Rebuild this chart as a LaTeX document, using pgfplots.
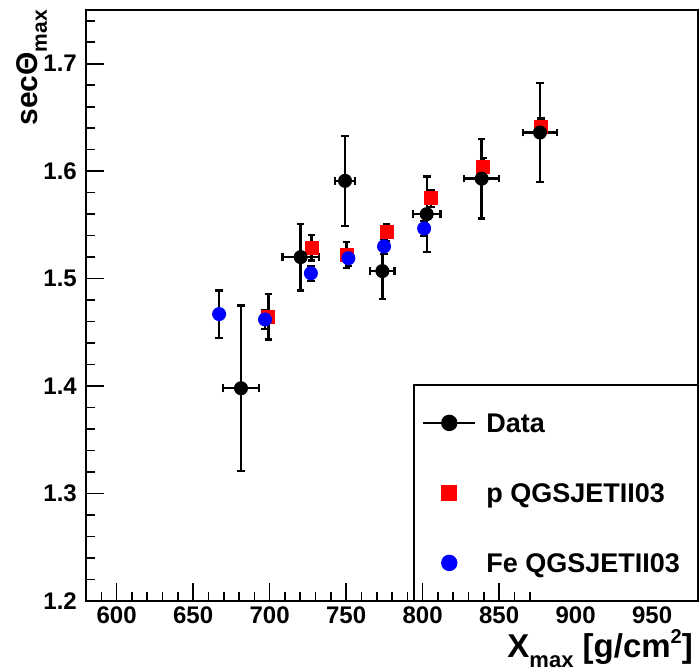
\documentclass[border=0pt]{standalone}
\usepackage{fontspec}
\setmainfont{Liberation Sans}
\usepackage{pgfplots}
\pgfplotsset{compat=1.18}
\begin{document}
\begin{tikzpicture}
\path[use as bounding box] (0,0) rectangle (700pt,671pt);
\begin{axis}[
  at={(86pt,70pt)}, anchor=south west,
  scale only axis, width=612pt, height=591pt,
  xmin=580, xmax=980, ymin=1.2, ymax=1.75,
  clip=false,
  axis line style={line width=1.6pt},
  every tick/.style={black, line width=1.6pt},
  tick align=inside,
  major tick length=18pt, minor tick length=9pt,
  xtick pos=bottom, ytick pos=left,
  xtick={600,650,700,750,800,850},
  extra x ticks={900,950},
  extra x tick style={major tick length=0pt},
  minor xtick={590,610,620,630,640,660,670,680,690,710,720,730,740,760,770,780,790,810,820,830,840,860,870},
  ytick={1.2,1.3,1.4,1.5,1.6,1.7},
  minor ytick={1.22,1.24,1.26,1.28,1.32,1.34,1.36,1.38,1.42,1.44,1.46,1.48,1.52,1.54,1.56,1.58,1.62,1.64,1.66,1.68,1.72,1.74},
  /pgf/number format/assume math mode=true,
  tick label style={font=\fontsize{24}{24}\selectfont\bfseries},
  xticklabel style={inner sep=0pt, yshift=-6pt},
  yticklabel style={inner sep=0pt, xshift=-9pt, /pgf/number format/fixed, /pgf/number format/precision=1, /pgf/number format/fixed zerofill},
  legend style={at={(rel axis cs:0.549,0.3181)}, anchor=north west, draw=none, fill=none,
    inner sep=0pt, row sep=50.6pt, column sep=10pt,
    font=\fontsize{27}{27}\selectfont\bfseries,
    nodes={inner sep=0pt, text height=19.4pt, text depth=0pt}},
  legend cell align=left,
  every axis plot/.append style={line width=2.4pt},
  error bars/error bar style={black, line width=2.4pt},
  error bars/error mark options={black, rotate=90, line width=2.4pt, mark size=3.8pt},
]
\addlegendimage{legend image code/.code={\draw[black, line width=2.2pt] (0pt,0pt) -- (52pt,0pt); \fill[black] (26pt,0pt) circle (7pt);}}
\addlegendentry{Data}
\addlegendimage{legend image code/.code={\fill[red] (19pt,-7pt) rectangle (33pt,7pt);}}
\addlegendentry{p QGSJETII03}
\addlegendimage{legend image code/.code={\fill[blue] (26pt,0pt) circle (7pt);}}
\addlegendentry{Fe QGSJETII03}

% p QGSJETII03
\addplot[forget plot, only marks, mark=square*, mark size=5.8pt, color=red, mark options={draw=red, fill=red},
  error bars/.cd, y dir=both, y explicit]
  coordinates {
  (699.2,1.4645) +- (0,0.021)
  (727.5,1.5287) +- (0,0.012)
  (750.3,1.5220) +- (0,0.012)
  (776.5,1.5430) +- (0,0.008)
  (805.5,1.5746) +- (0,0.008)
  (839.7,1.6040) +- (0,0.008)
  (877.4,1.6410) +- (0,0.008)
  };
% Fe QGSJETII03
\addplot[forget plot, only marks, mark=*, mark size=5.8pt, color=blue, mark options={draw=blue, fill=blue},
  error bars/.cd, y dir=both, y explicit]
  coordinates {
  (667.0,1.4670) +- (0,0.022)
  (697.0,1.4620) +- (0,0.009)
  (727.0,1.5050) +- (0,0.007)
  (751.5,1.5190) +- (0,0.007)
  (774.8,1.5300) +- (0,0.007)
  (801.0,1.5467) +- (0,0.007)
  };
% Data
\addplot[forget plot, only marks, mark=*, mark size=5.8pt, color=black, mark options={draw=black, fill=black},
  error bars/.cd, x dir=both, x explicit, y dir=both, y explicit]
  coordinates {
  (681.3,1.398) +- (11.8,0.077)
  (720.3,1.520) +- (12.0,0.031)
  (749.3,1.591) +- (6.5,0.042)
  (773.7,1.507) +- (8.0,0.026)
  (802.7,1.560) +- (9.0,0.035)
  (838.6,1.593) +- (11.5,0.037)
  (876.7,1.636) +- (11.0,0.046)
  };

\draw[line width=1.6pt] (rel axis cs:0.5359,0) rectangle (rel axis cs:1,0.3655);
\node[anchor=base east, inner sep=0pt, font=\fontsize{33}{33}\selectfont\bfseries]
  at ([xshift=-5pt, yshift=-56pt]rel axis cs:1,0)
  {X\raisebox{-10pt}{\fontsize{22}{22}\selectfont max} [g/cm\raisebox{14pt}{\fontsize{20}{20}\selectfont 2}]};
\node[rotate=90, anchor=base east, inner sep=0pt, font=\fontsize{30}{30}\selectfont\bfseries]
  at ([xshift=-49pt]rel axis cs:0,1)
  {secΘ\raisebox{-10pt}{\fontsize{21}{21}\selectfont max}};
\end{axis}
\end{tikzpicture}
\end{document}
